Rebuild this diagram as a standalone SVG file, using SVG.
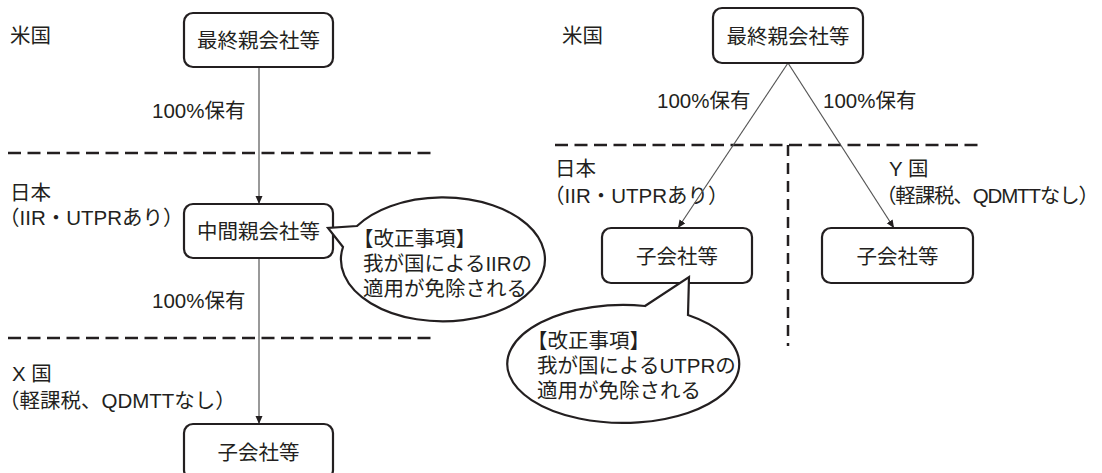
<svg xmlns="http://www.w3.org/2000/svg" width="1102" height="473" viewBox="0 0 1102 473">
<defs>
<style>
text{font-family:"Liberation Sans","Noto Sans CJK JP",sans-serif;font-size:20.5px;fill:#231f20;dominant-baseline:central}
.mid{text-anchor:middle}
.box{fill:#fff;stroke:#231f20;stroke-width:2.2}
.conn{stroke:#555;stroke-width:1.2;fill:none;marker-end:url(#arr)}
.dash{stroke:#231f20;stroke-width:2.5;stroke-dasharray:13 6.5;fill:none}
.vdash{stroke:#231f20;stroke-width:2.5;stroke-dasharray:11 7;fill:none}
.call{fill:#fff;stroke:#231f20;stroke-width:2.2;stroke-linejoin:miter}
</style>
<marker id="arr" markerUnits="userSpaceOnUse" markerWidth="9" markerHeight="8" refX="8" refY="3.5" orient="auto">
<path d="M0,0 L8,3.5 L0,7 z" fill="#231f20"/>
</marker>
</defs>
<rect width="1102" height="473" fill="#fff"/>

<g id="borders">
<line class="dash" x1="8" y1="153" x2="436" y2="153"/>
<line class="dash" x1="8" y1="338" x2="436" y2="338"/>
<line class="dash" x1="555" y1="145" x2="983" y2="145"/>
<line class="vdash" x1="788" y1="145" x2="788" y2="346"/>
</g>

<g id="region-labels">
<text x="10" y="35">米国</text>
<text y="192"><tspan x="10">日本</tspan><tspan x="-1" dy="25">（IIR・UTPRあり）</tspan></text>
<text y="373"><tspan x="12">X 国</tspan><tspan x="-1" dy="27">（軽課税、QDMTTなし）</tspan></text>
<text x="562" y="35">米国</text>
<text y="168"><tspan x="555">日本</tspan><tspan x="544" dy="27">（IIR・UTPRあり）</tspan></text>
<text y="168"><tspan x="889">Y 国</tspan></text>
<text x="876" y="195" textLength="223" lengthAdjust="spacing">（軽課税、QDMTTなし）</text>
</g>

<g id="connectors">
<line class="conn" x1="259" y1="67" x2="259" y2="204"/>
<line class="conn" x1="259" y1="258" x2="259" y2="424"/>
<line class="conn" x1="788" y1="63" x2="678" y2="228"/>
<line class="conn" x1="788" y1="63" x2="894" y2="228"/>
<text x="152" y="110">100%保有</text>
<text x="152" y="300">100%保有</text>
<text x="657" y="100">100%保有</text>
<text x="823" y="100">100%保有</text>
</g>

<g id="node-l-top">
<rect class="box" x="184" y="13" width="149" height="54" rx="9"/>
<text class="mid" x="258.5" y="40">最終親会社等</text>
</g>
<g id="node-l-mid">
<rect class="box" x="184" y="204" width="149" height="54" rx="9"/>
<text class="mid" x="258.5" y="231">中間親会社等</text>
</g>
<g id="node-l-bottom">
<rect class="box" x="184" y="424" width="149" height="55" rx="9"/>
<text class="mid" x="258.5" y="452">子会社等</text>
</g>
<g id="node-r-top">
<rect class="box" x="713" y="8" width="150" height="55" rx="9"/>
<text class="mid" x="788" y="36">最終親会社等</text>
</g>
<g id="node-r-jp">
<rect class="box" x="602" y="228" width="150" height="55" rx="9"/>
<text class="mid" x="677" y="256">子会社等</text>
</g>
<g id="node-r-y">
<rect class="box" x="822" y="228" width="151" height="55" rx="9"/>
<text class="mid" x="897.5" y="256">子会社等</text>
</g>

<g id="callout-iir">
<path class="call" d="M357,226 L328,228 L343,247 A102,62 0 1 0 357,226 Z"/>
<text y="238"><tspan x="353">【改正事項】</tspan><tspan x="363" dy="25">我が国によるIIRの</tspan><tspan x="363" dy="25">適用が免除される</tspan></text>
</g>
<g id="callout-utpr">
<path class="call" d="M645,306 L689,277 L688,315 A116,59 0 1 1 645,306 Z"/>
<text y="340"><tspan x="527">【改正事項】</tspan><tspan x="537" dy="25">我が国によるUTPRの</tspan><tspan x="537" dy="24.5">適用が免除される</tspan></text>
</g>
</svg>
